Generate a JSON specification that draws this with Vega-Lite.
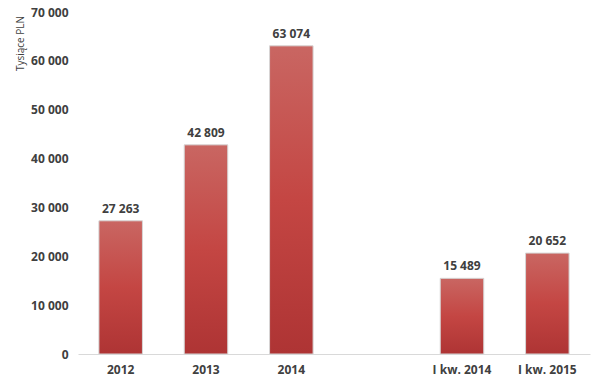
{
  "$schema": "https://vega.github.io/schema/vega-lite/v6.json",
  "width": 512,
  "height": 342,
  "autosize": {"type": "none"},
  "padding": {"left": 78, "top": 12, "right": 10, "bottom": 32},
  "background": "white",
  "data": {
    "values": [
      {"okres": "2012", "wartosc": 27263, "etykieta": "27 263"},
      {"okres": "2013", "wartosc": 42809, "etykieta": "42 809"},
      {"okres": "2014", "wartosc": 63074, "etykieta": "63 074"},
      {"okres": "I kw. 2014", "wartosc": 15489, "etykieta": "15 489"},
      {"okres": "I kw. 2015", "wartosc": 20652, "etykieta": "20 652"}
    ]
  },
  "encoding": {
    "x": {
      "field": "okres",
      "type": "nominal",
      "sort": null,
      "scale": {"domain": ["2012", "2013", "2014", " ", "I kw. 2014", "I kw. 2015"], "paddingInner": 0.49, "paddingOuter": 0.245},
      "axis": {
        "title": null,
        "labelAngle": 0,
        "labelFont": "Open Sans",
        "labelFontWeight": "bold",
        "labelFontSize": 12,
        "labelColor": "#404040",
        "labelPadding": 10,
        "ticks": false,
        "domainColor": "#d9d9d9",
        "domainWidth": 1,
        "grid": false
      }
    },
    "y": {
      "field": "wartosc",
      "type": "quantitative",
      "scale": {"domain": [0, 70000], "nice": false},
      "axis": {
        "title": "Tysiące PLN",
        "titleFont": "Open Sans",
        "titleFontWeight": "normal",
        "titleFontSize": 10,
        "titleColor": "#404040",
        "titleAngle": -90,
        "titleX": -58,
        "titleY": 31,
        "titleAlign": "center",
        "titleBaseline": "middle",
        "values": [0, 10000, 20000, 30000, 40000, 50000, 60000, 70000],
        "labelExpr": "replace(format(datum.value, ','), ',', ' ')",
        "labelFont": "Open Sans",
        "labelFontWeight": "bold",
        "labelFontSize": 12,
        "labelColor": "#404040",
        "labelPadding": 10,
        "ticks": false,
        "domain": false,
        "grid": false
      }
    }
  },
  "layer": [
    {
      "mark": {
        "type": "bar",
        "stroke": "#d6d6d6",
        "strokeWidth": 1,
        "color": {
          "gradient": "linear",
          "x1": 0, "y1": 0, "x2": 0, "y2": 1,
          "stops": [
            {"offset": 0, "color": "#c96662"},
            {"offset": 0.5, "color": "#c44643"},
            {"offset": 1, "color": "#ae3434"}
          ]
        }
      }
    },
    {
      "mark": {
        "type": "text",
        "baseline": "bottom",
        "dy": -5,
        "font": "Open Sans",
        "fontWeight": "bold",
        "fontSize": 12,
        "color": "#404040"
      },
      "encoding": {"text": {"field": "etykieta"}}
    }
  ],
  "config": {"view": {"stroke": null}}
}
